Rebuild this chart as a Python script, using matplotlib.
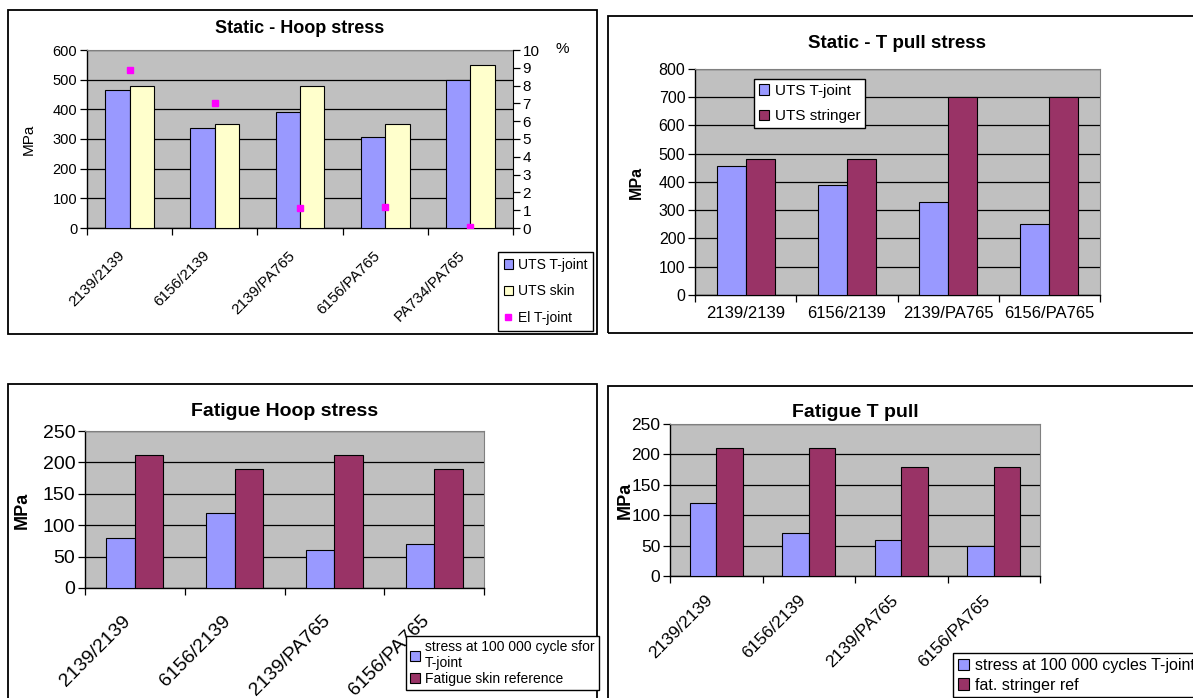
import numpy as np
import matplotlib
matplotlib.use("Agg")
import matplotlib.pyplot as plt
from matplotlib.patches import Rectangle
from matplotlib.transforms import ScaledTranslation

plt.rcParams['font.family'] = ['Liberation Sans', 'DejaVu Sans']

# данные
hoop_cats = ['2139/2139', '6156/2139', '2139/PA765', '6156/PA765', 'PA734/PA765']
hoop_uts_tjoint = [465, 338, 392, 308, 500]
hoop_uts_skin = [480, 350, 480, 350, 550]
hoop_el_tjoint = [8.9, 7.0, 1.15, 1.2, 0.05]

tpull_cats = ['2139/2139', '6156/2139', '2139/PA765', '6156/PA765']
tpull_uts_tjoint = [455, 390, 330, 250]
tpull_uts_stringer = [480, 480, 700, 700]

fat_cats = ['2139/2139', '6156/2139', '2139/PA765', '6156/PA765']
fat_hoop_tjoint = [80, 120, 60, 70]
fat_hoop_skin = [211, 190, 211, 190]
fat_tpull_tjoint = [120, 70, 60, 50]
fat_tpull_stringer = [210, 210, 180, 180]

BLUE = '#9999FF'
YELLOW = '#FFFFCC'
MAROON = '#993366'
MAGENTA = '#FF00FF'
GRAY = '#C0C0C0'

W, H = 1193, 698
fig = plt.figure(figsize=(W / 100, H / 100), dpi=100)


def ax_at(x0, y0, x1, y1):
    return fig.add_axes([x0 / W, 1 - y1 / H, (x1 - x0) / W, (y1 - y0) / H])


def box(x0, y0, x1, y1):
    fig.patches.append(Rectangle((x0 / W, 1 - y1 / H), (x1 - x0) / W, (y1 - y0) / H,
                                 transform=fig.transFigure, fill=False, ec='black', lw=1.3))


def bar_panel(ax, cats, s1, s2, c1, c2, ymax, ystep, fs, xfs, rot, shift=(0, 0)):
    x = np.arange(len(cats))
    bw = 1 / 3.5
    ax.bar(x - bw / 2, s1, bw, color=c1, edgecolor='black', lw=0.8, zorder=3)
    ax.bar(x + bw / 2, s2, bw, color=c2, edgecolor='black', lw=0.8, zorder=3)
    ax.set_xlim(-0.5, len(cats) - 0.5)
    ax.set_ylim(0, ymax)
    ax.set_yticks(np.arange(0, ymax + 1, ystep))
    ax.set_facecolor(GRAY)
    ax.yaxis.grid(True, color='black', lw=0.9, zorder=0)
    ax.set_axisbelow(True)
    if rot:
        ax.set_xticks(x, cats, rotation=45, ha='right', va='top', rotation_mode='anchor')
    else:
        ax.set_xticks(x, cats)
    ax.set_xticks(np.arange(-0.5, len(cats)), minor=True)
    ax.tick_params(axis='x', which='major', length=0, labelsize=xfs, pad=6 if rot else 8)
    ax.tick_params(axis='x', which='minor', length=5, width=0.9)
    ax.tick_params(axis='y', length=5, width=0.9, labelsize=fs, pad=2)
    for s in ['top', 'right']:
        ax.spines[s].set_color('#808080')
    for s in ['left', 'bottom']:
        ax.spines[s].set_linewidth(1.0)
    if rot:
        # сдвиг подписей вниз-влево, как в Excel (после tick_params, иначе сбросится)
        off = ScaledTranslation(shift[0] / 100, -shift[1] / 100, fig.dpi_scale_trans)
        for lab in ax.get_xticklabels():
            lab.set_transform(lab.get_transform() + off)
    return x


def legend(handles, labels, x0, y0, fs, ls, bp=0.4):
    lg = fig.legend(handles, labels, loc='upper left', bbox_to_anchor=(x0 / W, 1 - y0 / H),
                    fontsize=fs, frameon=True, fancybox=False, edgecolor='black', framealpha=1,
                    borderaxespad=0, handlelength=0.7, handleheight=0.7, handletextpad=0.35,
                    labelspacing=ls, borderpad=bp)
    lg.get_frame().set_linewidth(1.0)
    return lg


# --- Static - Hoop stress ---
box(8, 10, 597, 334)
ax1 = ax_at(87, 50, 513, 228)
x1 = bar_panel(ax1, hoop_cats, hoop_uts_tjoint, hoop_uts_skin, BLUE, YELLOW, 600, 100,
               10.5, 11, True, shift=(-12, 12))
ax1r = ax1.twinx()
ax1r.plot(x1, hoop_el_tjoint, 's', color=MAGENTA, ms=5, ls='none', zorder=5)
ax1r.set_ylim(0, 10)
ax1r.set_yticks(np.arange(0, 11, 1))
ax1r.tick_params(axis='y', length=5, width=0.9, labelsize=11, pad=2)
for s in ['left', 'top', 'bottom']:
    ax1r.spines[s].set_visible(False)
ax1.spines['right'].set_visible(False)
ax1.set_title('Static - Hoop stress', fontsize=13, fontweight='bold', pad=12)
fig.text(29 / W, 1 - 139 / H, 'MPa', rotation=90, ha='center', va='center', fontsize=11)
fig.text(562 / W, 1 - 49 / H, '%', ha='center', va='center', fontsize=11)
h1 = [Rectangle((0, 0), 1, 1, fc=BLUE, ec='black', lw=0.8),
      Rectangle((0, 0), 1, 1, fc=YELLOW, ec='black', lw=0.8),
      plt.Line2D([], [], marker='s', color=MAGENTA, ls='none', ms=5)]
legend(h1, ['UTS T-joint', 'UTS skin', 'El T-joint'], 498, 252, 10, 0.92)

# --- Static - T pull stress ---
box(608, 16, 1200, 333)
ax2 = ax_at(695, 69, 1100, 295)
bar_panel(ax2, tpull_cats, tpull_uts_tjoint, tpull_uts_stringer, BLUE, MAROON, 800, 100,
          11.5, 12, False)
ax2.set_title('Static - T pull stress', fontsize=13.5, fontweight='bold', pad=15)
fig.text(636 / W, 1 - 182 / H, 'MPa', rotation=90, ha='center', va='center', fontsize=11.5,
         fontweight='bold')
h2 = [Rectangle((0, 0), 1, 1, fc=BLUE, ec='black', lw=0.8),
      Rectangle((0, 0), 1, 1, fc=MAROON, ec='black', lw=0.8)]
legend(h2, ['UTS T-joint', 'UTS stringer'], 754, 79, 11, 0.76, bp=0.3)

# --- Fatigue Hoop stress ---
box(8, 384, 597, 710)
ax3 = ax_at(85, 431, 484, 588)
bar_panel(ax3, fat_cats, fat_hoop_tjoint, fat_hoop_skin, BLUE, MAROON, 250, 50,
          14, 14, True, shift=(-13, 16))
ax3.set_title('Fatigue Hoop stress', fontsize=14, fontweight='bold', pad=11)
fig.text(22 / W, 1 - 510 / H, 'MPa', rotation=90, ha='center', va='center', fontsize=13,
         fontweight='bold')
legend(h2, ['stress at 100 000 cycle sfor\nT-joint', 'Fatigue skin reference'], 406, 636,
       10, 0.1, bp=0.3)

# --- Fatigue T pull ---
box(608, 386, 1200, 710)
ax4 = ax_at(670, 424, 1040, 576)
bar_panel(ax4, fat_cats, fat_tpull_tjoint, fat_tpull_stringer, BLUE, MAROON, 250, 50,
          12.5, 12.5, True, shift=(-11, 8))
ax4.set_title('Fatigue T pull', fontsize=14, fontweight='bold', pad=5)
fig.text(625 / W, 1 - 500 / H, 'MPa', rotation=90, ha='center', va='center', fontsize=13,
         fontweight='bold')
legend(h2, ['stress at 100 000 cycles T-joint', 'fat. stringer ref'], 953, 653, 11.5, 0.3, bp=0.3)

fig.savefig('out.png', dpi=100)
